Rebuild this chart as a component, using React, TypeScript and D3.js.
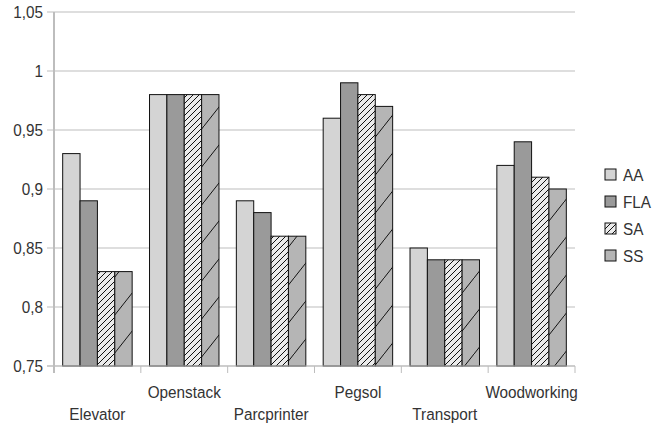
import { useRef, useEffect } from 'react';
import * as d3 from 'd3';

const categories = ['Elevator', 'Openstack', 'Parcprinter', 'Pegsol', 'Transport', 'Woodworking'];
const seriesNames = ['AA', 'FLA', 'SA', 'SS'];
const aaValues = [0.93, 0.98, 0.89, 0.96, 0.85, 0.92];
const flaValues = [0.89, 0.98, 0.88, 0.99, 0.84, 0.94];
const saValues = [0.83, 0.98, 0.86, 0.98, 0.84, 0.91];
const ssValues = [0.83, 0.98, 0.86, 0.97, 0.84, 0.90];
const yTicks = [0.75, 0.8, 0.85, 0.9, 0.95, 1, 1.05];

const W = 654;
const H = 426;

export default function App() {
  const svgRef = useRef<SVGSVGElement>(null);

  useEffect(() => {
    if (!svgRef.current) return;
    const root = d3.select(svgRef.current);
    root.selectAll('*').remove();

    const margin = { top: 12, right: 79, bottom: 60, left: 54 };
    const width = W - margin.left - margin.right;
    const height = H - margin.top - margin.bottom;
    // narrow look: Liberation Sans squeezed horizontally
    const font = "'Liberation Sans', Arial, sans-serif";
    const squeeze = 'scale(0.9,1)';

    // patterns
    const defs = root.append('defs');
    const saPat = defs.append('pattern')
      .attr('id', 'saHatch')
      .attr('patternUnits', 'userSpaceOnUse')
      .attr('width', 6)
      .attr('height', 6);
    saPat.append('rect').attr('width', 6).attr('height', 6).attr('fill', '#ebebeb');
    saPat.append('path')
      .attr('d', 'M-1,1 L1,-1 M0,6 L6,0 M5,7 L7,5')
      .attr('stroke', '#111')
      .attr('stroke-width', 1);

    const ssPat = defs.append('pattern')
      .attr('id', 'ssHatch')
      .attr('patternUnits', 'userSpaceOnUse')
      .attr('width', 30)
      .attr('height', 38);
    ssPat.append('rect').attr('width', 30).attr('height', 38).attr('fill', '#b5b5b5');
    ssPat.append('path')
      .attr('d', 'M0,38 L30,0')
      .attr('stroke', '#111')
      .attr('stroke-width', 1);

    const fills = ['#d4d4d4', '#9a9a9a', 'url(#saHatch)', 'url(#ssHatch)'];

    const svg = root.append('g')
      .attr('transform', `translate(${margin.left},${margin.top})`);

    const x0 = d3.scaleBand()
      .domain(categories)
      .range([0, width])
      .paddingInner(0.2)
      .paddingOuter(0.1);

    const xCat = d3.scaleBand()
      .domain(categories)
      .range([0, width]);

    const x1 = d3.scaleBand()
      .domain(seriesNames)
      .range([0, x0.bandwidth()]);

    const y = d3.scaleLinear()
      .domain([0.75, 1.05])
      .range([height, 0]);

    // gridlines + y labels
    svg.append('g')
      .selectAll('line')
      .data(yTicks)
      .enter()
      .append('line')
      .attr('x1', -7)
      .attr('x2', width)
      .attr('y1', d => y(d))
      .attr('y2', d => y(d))
      .attr('stroke', '#bdbdbd')
      .attr('stroke-width', 1);

    svg.append('g')
      .selectAll('text')
      .data(yTicks)
      .enter()
      .append('text')
      .attr('transform', d => `translate(-11,${y(d)}) ${squeeze}`)
      .attr('dy', '0.35em')
      .attr('text-anchor', 'end')
      .style('font-family', font)
      .style('font-size', '17px')
      .style('fill', '#333')
      .text(d => d3.format('.2~f')(d).replace('.', ','));

    // y axis line
    svg.append('line')
      .attr('x1', 0).attr('x2', 0)
      .attr('y1', 0).attr('y2', height + 7)
      .attr('stroke', '#bdbdbd')
      .attr('stroke-width', 2);

    // x axis tick marks
    const boundaries = [...categories.map(c => xCat(c) || 0), width];
    svg.append('g')
      .selectAll('line')
      .data(boundaries)
      .enter()
      .append('line')
      .attr('x1', d => d).attr('x2', d => d)
      .attr('y1', height).attr('y2', height + 7)
      .attr('stroke', '#bdbdbd')
      .attr('stroke-width', 1);

    // bars
    const valuesBySeries = [aaValues, flaValues, saValues, ssValues];
    const rows = categories.flatMap((c, i) =>
      seriesNames.map((s, j) => ({ cat: c, series: s, j, value: valuesBySeries[j][i] })));

    svg.append('g')
      .selectAll('rect')
      .data(rows)
      .enter()
      .append('rect')
      .attr('x', d => (x0(d.cat) || 0) + (x1(d.series) || 0))
      .attr('y', d => y(d.value))
      .attr('width', x1.bandwidth())
      .attr('height', d => height - y(d.value))
      .attr('fill', d => fills[d.j])
      .attr('stroke', '#111')
      .attr('stroke-width', 1);

    // x axis baseline
    svg.append('line')
      .attr('x1', -7).attr('x2', width)
      .attr('y1', height).attr('y2', height)
      .attr('stroke', '#bdbdbd')
      .attr('stroke-width', 1);

    // staggered category labels
    svg.append('g')
      .selectAll('text')
      .data(categories)
      .enter()
      .append('text')
      .attr('transform', (d, i) =>
        `translate(${(xCat(d) || 0) + xCat.bandwidth() / 2},${height + (i % 2 === 0 ? 48 : 26)}) ${squeeze}`)
      .attr('dy', '0.35em')
      .attr('text-anchor', 'middle')
      .style('font-family', font)
      .style('font-size', '17px')
      .style('fill', '#333')
      .text(d => d);

    // legend
    const legend = root.append('g').attr('transform', 'translate(605,169)');
    seriesNames.forEach((s, j) => {
      const g = legend.append('g').attr('transform', `translate(0,${j * 27})`);
      g.append('rect')
        .attr('width', 11)
        .attr('height', 11)
        .attr('fill', j === 2 ? 'url(#saHatch)' : j === 3 ? '#b5b5b5' : fills[j])
        .attr('stroke', '#111')
        .attr('stroke-width', 1);
      g.append('text')
        .attr('transform', `translate(18,6) ${squeeze}`)
        .attr('dy', '0.35em')
        .style('font-family', font)
        .style('font-size', '17px')
        .style('fill', '#333')
        .text(s);
    });
  }, []);

  return (
    <svg
      ref={svgRef}
      width={W}
      height={H}
      style={{ position: 'absolute', left: 0, top: 0, background: '#fff' }}
    />
  );
}
